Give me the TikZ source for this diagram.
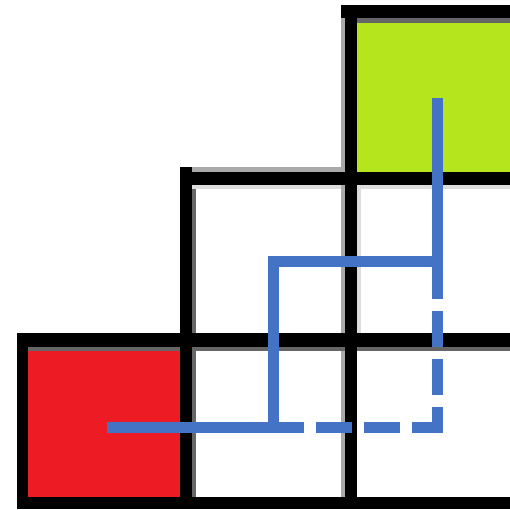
\documentclass[tikz,border=0pt]{standalone}
\begin{document}
\begin{tikzpicture}[x=1pt,y=-1pt,
  cellbox/.style={draw=none,inner sep=0pt,outer sep=0pt},
  gridline/.style={fill=black},
  pathline/.style={draw=pathblue,line width=11pt,line cap=butt,line join=miter}]
\definecolor{pathblue}{HTML}{4472C4}
\definecolor{goalgreen}{HTML}{B5E61D}
\definecolor{startred}{HTML}{ED1C24}
\definecolor{shadedark}{HTML}{666666}
\definecolor{shademid}{HTML}{AAAAAA}
\definecolor{shadelight}{HTML}{DDDDDD}
\useasboundingbox (0,0) rectangle (510,509);
\fill[white] (0,0) rectangle (510,509);
% cells
\node[cellbox,fill=startred,minimum width=152pt,minimum height=150pt] (start) at (104,422) {};
\node[cellbox,fill=goalgreen,minimum width=153pt,minimum height=154pt] (goal) at (433.5,95) {};
% shading bands
\fill[shadedark] (357,18) rectangle (510,23);
\fill[shadedark] (28,347) rectangle (180,351);
\fill[shadedark] (192,347) rectangle (510,351);
\fill[shadedark] (192,185) rectangle (196,333);
\fill[shadedark] (192,351) rectangle (196,497);
\fill[shadelight] (192,185) rectangle (510,189);
\fill[shademid] (180,167) rectangle (345,172);
\fill[shademid] (341,18) rectangle (345,172);
\fill[shademid] (341,185) rectangle (345,333);
\fill[shademid] (341,351) rectangle (345,497);
\fill[shadelight] (357,185) rectangle (361,333);
% grid lines
\fill[gridline] (341,5) rectangle (510,18);
\fill[gridline] (180,172) rectangle (510,185);
\fill[gridline] (17,333) rectangle (510,347);
\fill[gridline] (17,497) rectangle (510,509);
\fill[gridline] (17,333) rectangle (28,509);
\fill[gridline] (180,167) rectangle (192,509);
\fill[gridline] (345,5) rectangle (357,509);
% path coordinates
\coordinate (p0) at (107,427);
\coordinate (p1) at (273.5,427);
\coordinate (p2) at (273.5,261.5);
\coordinate (p3) at (437.5,261.5);
\coordinate (p4) at (437.5,98);
\coordinate (c) at (437.5,427);
\coordinate (ch) at (443,427);
\coordinate (cv) at (437.5,432.5);
% dashed alternative
\draw[pathline,dash pattern=on 36pt off 12pt,dash phase=5pt] (ch) -- (p1);
\draw[pathline,dash pattern=on 36pt off 12pt,dash phase=10.5pt] (cv) -- (p3);
% solid path
\draw[pathline] (p0) -- (p1) -- (p2) -- (p3) -- (p4);
\end{tikzpicture}
\end{document}
